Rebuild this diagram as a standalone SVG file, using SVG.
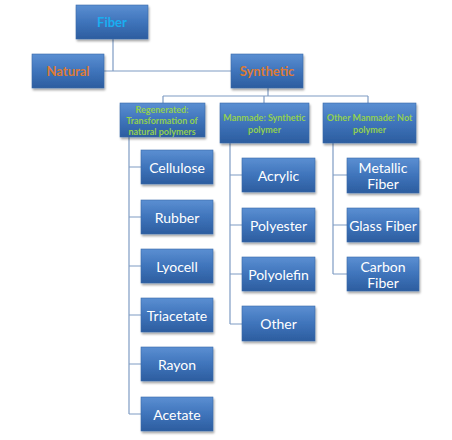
<svg xmlns="http://www.w3.org/2000/svg" width="452" height="440" viewBox="0 0 452 440">
<defs>
<linearGradient id="g" x1="0" y1="0" x2="0" y2="1">
<stop offset="0" stop-color="#5b8fd2"/>
<stop offset="0.5" stop-color="#3f74bb"/>
<stop offset="1" stop-color="#2c5d9f"/>
</linearGradient>
<filter id="sh" x="-10%" y="-10%" width="130%" height="140%">
<feGaussianBlur in="SourceAlpha" stdDeviation="1.2"/>
<feOffset dx="1" dy="2" result="b"/>
<feComponentTransfer><feFuncA type="linear" slope="0.35"/></feComponentTransfer>
<feMerge><feMergeNode/><feMergeNode in="SourceGraphic"/></feMerge>
</filter>
</defs>
<style>
rect{fill:url(#g);stroke:#3a6aa8;stroke-width:0.6;filter:url(#sh)}
text{font-family:Lato,"Open Sans","Liberation Sans",sans-serif;text-anchor:middle;dominant-baseline:central}
.t{font-weight:bold;font-size:13px}
.blue{fill:#19aef0}
.orange{fill:#dc7a35}
.g{fill:#92d050;font-size:9px;font-weight:bold}
.c{fill:#ffffff;font-size:14px}
.lines{stroke:#7f9cc4;stroke-width:1.2;fill:none}
</style>
<rect width="452" height="440" fill="#ffffff" style="fill:#ffffff;stroke:none;filter:none"/>
<g id="connectors" class="lines">
<path d="M113 39V71M104 71H231"/>
<path d="M268 88V96M163 96H368M163 96V103M264 96V103M368 96V103"/>
<path d="M129 137V414M129 167H141M129 217H141M129 266H141M129 315H141M129 364H141M129 414H141"/>
<path d="M230 143V324M230 175H242M230 225H242M230 274H242M230 324H242"/>
<path d="M333 143V274M333 175H347M333 225H347M333 274H347"/>
</g>
<g id="fiber"><rect x="76" y="5" width="72" height="34"/><text class="t blue" x="112" y="22">Fiber</text></g>
<g id="natural"><rect x="32" y="54" width="72" height="34"/><text class="t orange" x="68" y="71">Natural</text></g>
<g id="synthetic"><rect x="231" y="54" width="72" height="34"/><text class="t orange" x="267" y="71">Synthetic</text></g>
<g id="regenerated"><rect x="120" y="103" width="85" height="34"/><text class="g" x="162" y="109">Regenerated:</text><text class="g" x="162" y="120">Transformation of</text><text class="g" x="162" y="131">natural polymers</text></g>
<g id="manmade"><rect x="220" y="103" width="89" height="40"/><text class="g" x="264.5" y="117">Manmade: Synthetic</text><text class="g" x="264.5" y="129">polymer</text></g>
<g id="other-manmade"><rect x="323" y="103" width="93" height="40"/><text class="g" x="369.5" y="117">Other Manmade: Not</text><text class="g" x="369.5" y="129">polymer</text></g>
<g id="cellulose"><rect x="141" y="150" width="72" height="34"/><text class="c" x="177" y="167">Cellulose</text></g>
<g id="rubber"><rect x="141" y="200" width="72" height="34"/><text class="c" x="177" y="217">Rubber</text></g>
<g id="lyocell"><rect x="141" y="249" width="72" height="34"/><text class="c" x="177" y="266">Lyocell</text></g>
<g id="triacetate"><rect x="141" y="298" width="72" height="34"/><text class="c" x="177" y="315">Triacetate</text></g>
<g id="rayon"><rect x="141" y="347" width="72" height="34"/><text class="c" x="177" y="364">Rayon</text></g>
<g id="acetate"><rect x="141" y="397" width="72" height="34"/><text class="c" x="177" y="414">Acetate</text></g>
<g id="acrylic"><rect x="242" y="158" width="73" height="34"/><text class="c" x="278.5" y="175">Acrylic</text></g>
<g id="polyester"><rect x="242" y="208" width="73" height="34"/><text class="c" x="278.5" y="225">Polyester</text></g>
<g id="polyolefin"><rect x="242" y="257" width="73" height="34"/><text class="c" x="278.5" y="274">Polyolefin</text></g>
<g id="other"><rect x="242" y="306" width="73" height="35"/><text class="c" x="278.5" y="323">Other</text></g>
<g id="metallic"><rect x="347" y="158" width="72" height="35"/><text class="c" x="383" y="167">Metallic</text><text class="c" x="383" y="183">Fiber</text></g>
<g id="glass"><rect x="347" y="208" width="72" height="34"/><text class="c" x="383" y="225">Glass Fiber</text></g>
<g id="carbon"><rect x="347" y="257" width="72" height="34"/><text class="c" x="383" y="266">Carbon</text><text class="c" x="383" y="282">Fiber</text></g>
</svg>
